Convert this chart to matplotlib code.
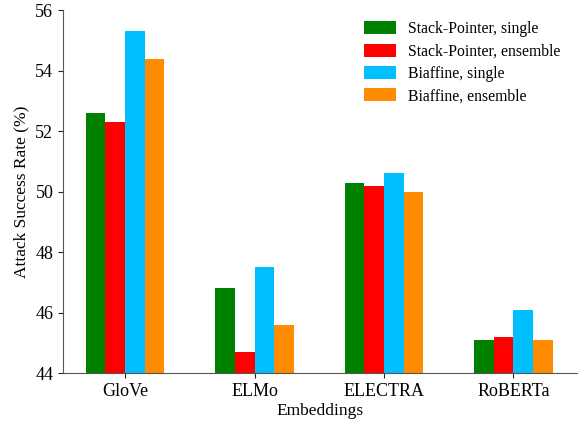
import matplotlib
matplotlib.use("Agg")
import matplotlib.pyplot as plt
import numpy as np

categories = ["GloVe", "ELMo", "ELECTRA", "RoBERTa"]
series_names = ["Stack-Pointer, single", "Stack-Pointer, ensemble", "Biaffine, single", "Biaffine, ensemble"]
sp_single = [52.6, 46.8, 50.3, 45.1]
sp_ensemble = [52.3, 44.7, 50.2, 45.2]
bi_single = [55.3, 47.5, 50.6, 46.1]
bi_ensemble = [54.4, 45.6, 50.0, 45.1]
colors = ["#008000", "#ff0000", "#00bfff", "#ff8c00"]

plt.rcParams['font.family'] = ['Liberation Serif', 'DejaVu Serif']

fig = plt.figure(figsize=(5.78, 4.23), dpi=100)
ax = fig.add_axes([0.109, 0.118, 0.889, 0.858])

x = np.arange(len(categories))
w = 0.152
all_series = [sp_single, sp_ensemble, bi_single, bi_ensemble]
for i, (vals, name, c) in enumerate(zip(all_series, series_names, colors)):
    ax.bar(x + (i - 1.5) * w, vals, w, color=c, label=name)

ax.set_ylim(44, 56)
ax.set_yticks(np.arange(44, 57, 2))
ax.set_xlim(-0.48, 3.49)
ax.set_xticks(x)
ax.set_xticklabels(categories)
ax.tick_params(labelsize=13, colors='#222222')
ax.tick_params(axis='both', labelcolor='black')
ax.set_xlabel("Embeddings", fontsize=12.5, labelpad=2)
ax.set_ylabel("Attack Success Rate (%)", fontsize=12.5)
for s in ['top', 'right']:
    ax.spines[s].set_visible(False)
for s in ['left', 'bottom']:
    ax.spines[s].set_color('#555555')
leg = ax.legend(loc='upper right', frameon=False, fontsize=11.3, bbox_to_anchor=(0.995, 1.008),
                handlelength=2.05, handleheight=0.9, labelspacing=0.4, handletextpad=0.75)

fig.savefig("out.png", dpi=100)
